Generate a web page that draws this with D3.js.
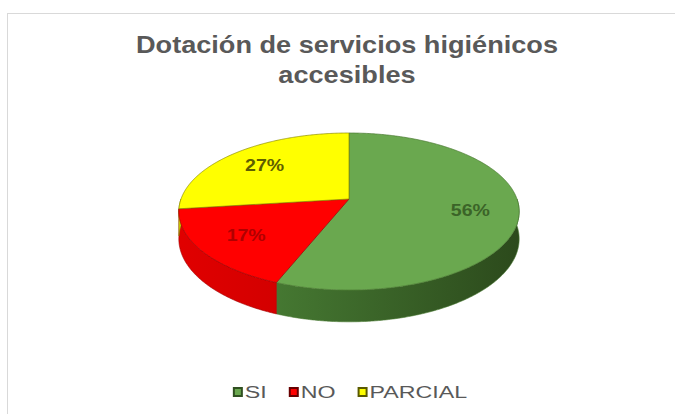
<!DOCTYPE html>
<html>
<head>
<meta charset="utf-8">
<script src="https://cdn.jsdelivr.net/npm/d3@7"></script>
<style>
  body { margin: 0; background: #fff; }
  text { font-family: "Liberation Sans", Arial, sans-serif; }
</style>
</head>
<body>
<div class="plots"></div>
<script>
var categories = ["SI", "NO", "PARCIAL"];
var values = [56, 17, 27];
var pctLabels = ["56%", "17%", "27%"];
var titleLines = ["Dotación de servicios higiénicos", "accesibles"];

var width = 675, height = 414;

// colours per slice: top, wall light, wall dark, outline, label
var topCol = ["#6aa84f", "#ff0000", "#ffff00"];
var wallA = ["#4f8a3a", "#e00000", "#d8d800"];
var wallB = ["#2c4a1c", "#b40000", "#a0a000"];
var edgeCol = ["#4a7a32", "#a00000", "#8a8a00"];
var labCol = ["#3b6428", "#b00000", "#5e5e00"];

var svg = d3.select(".plots").append("svg")
    .attr("width", width)
    .attr("height", height);

// chart area border
svg.append("rect")
    .attr("x", 7.5).attr("y", 13.5)
    .attr("width", 700).attr("height", 500)
    .attr("fill", "#fff")
    .attr("stroke", "#d9d9d9");

// title
var title = svg.append("text")
    .attr("text-anchor", "middle")
    .attr("font-size", 24)
    .attr("font-weight", "bold")
    .attr("fill", "#595959");
title.selectAll("tspan").data(titleLines).enter().append("tspan")
    .attr("x", 347)
    .attr("y", function(d, i) { return 53 + i * 30; })
    .text(function(d) { return d; });

// stretch title to match the picture's wide lettering
title.selectAll("tspan").each(function() {
  var w = this.getComputedTextLength();
  d3.select(this).attr("textLength", w * 1.13).attr("lengthAdjust", "spacingAndGlyphs");
});

// 3d pie projection
var cx = 349, cy = 199, R = 168, depth = 30;
var tilt = 27.1 * Math.PI / 180, camD = 938;

function project(theta, r, h) {
  var X = r * Math.sin(theta), Z = r * Math.cos(theta);
  var s = camD / (camD + Z * Math.cos(tilt));
  return [cx + X * s, cy + (-Z * Math.sin(tilt) + h * Math.cos(tilt)) * s];
}

var pie = d3.pie().sort(null).value(function(d) { return d; });
var arcs = pie(values);

var defs = svg.append("defs");
arcs.forEach(function(a, i) {
  var g = defs.append("linearGradient").attr("id", "wall" + i)
      .attr("gradientUnits", "userSpaceOnUse")
      .attr("x1", cx - R).attr("x2", cx + R).attr("y1", 0).attr("y2", 0);
  g.append("stop").attr("offset", "0%").attr("stop-color", wallA[i]);
  g.append("stop").attr("offset", "100%").attr("stop-color", wallB[i]);
});

var line = d3.line();
var step = Math.PI / 360;

// outer walls (front half only)
arcs.forEach(function(a, i) {
  var t0 = Math.max(a.startAngle, Math.PI / 2), t1 = Math.min(a.endAngle, 3 * Math.PI / 2);
  if (t1 <= t0) return;
  var topPts = [], botPts = [];
  for (var t = t0; t < t1; t += step) {
    topPts.push(project(t, R, 0));
    botPts.push(project(t, R, depth));
  }
  topPts.push(project(t1, R, 0));
  botPts.push(project(t1, R, depth));
  svg.append("path")
      .attr("d", line(topPts.concat(botPts.reverse())) + "Z")
      .attr("fill", "url(#wall" + i + ")")
      .attr("stroke", edgeCol[i])
      .attr("stroke-width", 0.6);
});

// top faces
arcs.forEach(function(a, i) {
  var pts = [project(0, 0, 0)];
  for (var t = a.startAngle; t < a.endAngle; t += step) pts.push(project(t, R, 0));
  pts.push(project(a.endAngle, R, 0));
  svg.append("path")
      .attr("d", line(pts) + "Z")
      .attr("fill", topCol[i])
      .attr("stroke", edgeCol[i])
      .attr("stroke-width", 0.7)
      .attr("stroke-linejoin", "round");
});

// data labels
arcs.forEach(function(a, i) {
  var p = project((a.startAngle + a.endAngle) / 2, R * 0.72, 0);
  var t = svg.append("text")
      .attr("x", p[0]).attr("y", p[1] + 6)
      .attr("text-anchor", "middle")
      .attr("font-size", 16)
      .attr("font-weight", "bold")
      .attr("fill", labCol[i])
      .text(pctLabels[i]);
  var w = t.node().getComputedTextLength();
  t.attr("textLength", w * 1.22).attr("lengthAdjust", "spacingAndGlyphs");
});

// legend
var legend = svg.append("g");
var xpos = 0;
categories.forEach(function(c, i) {
  legend.append("rect")
      .attr("x", xpos + 1).attr("y", 388)
      .attr("width", 8).attr("height", 8)
      .attr("fill", topCol[i])
      .attr("stroke", d3.color(edgeCol[i]).darker(1.2))
      .attr("stroke-width", 2);
  var t = legend.append("text")
      .attr("x", xpos + 12).attr("y", 398)
      .attr("font-size", 16)
      .attr("fill", "#595959")
      .text(c);
  var w = t.node().getComputedTextLength() * 1.45;
  t.attr("textLength", w).attr("lengthAdjust", "spacingAndGlyphs");
  xpos += 12 + w + 22;
});
var lw = xpos - 22;
legend.attr("transform", "translate(" + (350 - lw / 2) + ",0)");
</script>
</body>
</html>
